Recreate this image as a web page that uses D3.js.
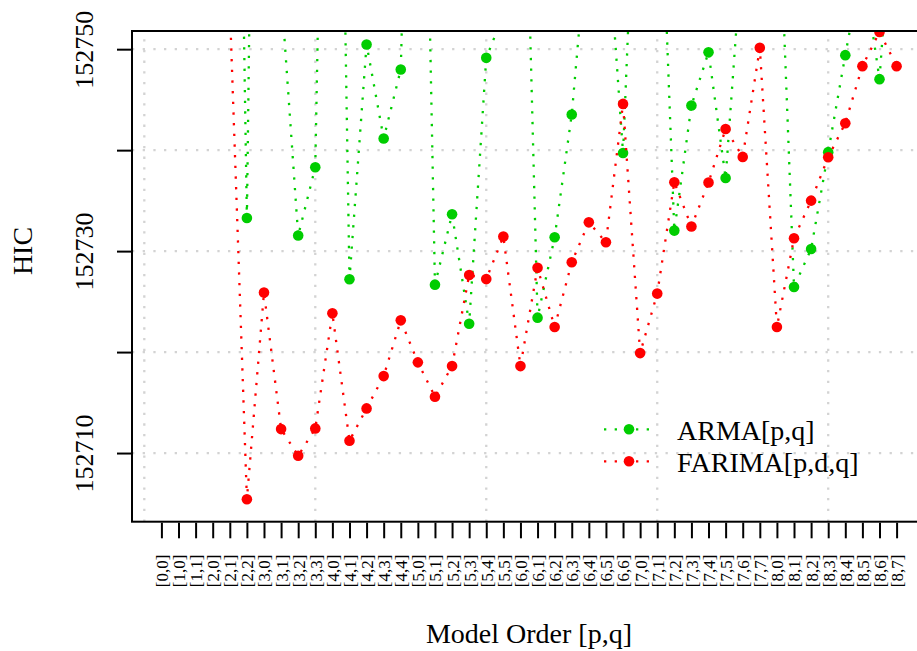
<!DOCTYPE html>
<html>
<head>
<meta charset="utf-8">
<script src="https://cdn.jsdelivr.net/npm/d3@7"></script>
<style>
  html, body { margin: 0; padding: 0; background: #ffffff; }
  svg { display: block; }
  text { font-family: "Liberation Serif", "DejaVu Serif", serif; fill: #000; }
</style>
</head>
<body>
<svg id="chart" width="917" height="651"></svg>
<script>
// Model orders [p,q] along the horizontal axis
const categories = [
  "[0,0]", "[1,0]", "[1,1]", "[2,0]", "[2,1]", "[2,2]",
  "[3,0]", "[3,1]", "[3,2]", "[3,3]",
  "[4,0]", "[4,1]", "[4,2]", "[4,3]", "[4,4]",
  "[5,0]", "[5,1]", "[5,2]", "[5,3]", "[5,4]", "[5,5]",
  "[6,0]", "[6,1]", "[6,2]", "[6,3]", "[6,4]", "[6,5]", "[6,6]",
  "[7,0]", "[7,1]", "[7,2]", "[7,3]", "[7,4]", "[7,5]", "[7,6]", "[7,7]",
  "[8,0]", "[8,1]", "[8,2]", "[8,3]", "[8,4]", "[8,5]", "[8,6]", "[8,7]"
];

// HIC of the ARMA[p,q] fits (null = not available, far above the shown range)
const armaHIC = [
  null, null, null, null, 152840, 152733.28,
  152870, 152755.9, 152731.54, 152738.31,
  152830, 152727.21, 152750.47, 152741.15, 152747.99,
  152813, 152726.68, 152733.65, 152722.81, 152749.14, 152753.4,
  152789, 152723.41, 152731.37, 152743.53, 152762.9, 152763.9, 152739.72,
  152781, 152776.9, 152732.03, 152744.42, 152749.70, 152737.24, 152760.8, null,
  152770.5, 152726.44, 152730.21, 152739.8, 152749.41, 152758.6, 152747.03, 152770.6
];

// HIC of the FARIMA[p,d,q] fits
const farimaHIC = [
  null, null, null, null, 152754.3, 152705.43,
  152725.89, 152712.37, 152709.73, 152712.44,
  152723.84, 152711.22, 152714.42, 152717.62, 152723.14,
  152718.98, 152715.58, 152718.61, 152727.63, 152727.23, 152731.44,
  152718.61, 152728.34, 152722.48, 152728.89, 152732.85, 152730.87, 152744.58,
  152719.90, 152725.79, 152736.82, 152732.43, 152736.79, 152742.10, 152739.33, 152750.13,
  152722.48, 152731.27, 152735.00, 152739.30, 152742.67, 152748.32, 152751.71, 152748.32
];

const yTicks = [152710, 152720, 152730, 152740, 152750];
const yTickLabels = [152710, 152730, 152750];
const gridX = [0, 10, 20, 30, 40];

const seriesNames = ["ARMA[p,q]", "FARIMA[p,d,q]"];
const seriesColors = ["#00cd00", "#ff0000"];

// plot region
const plotLeft = 132, plotRight = 926, plotTop = 31, plotBottom = 521.7;

const svg = d3.select("#chart");

const x = d3.scaleLinear().domain([-0.72, 45.72]).range([plotLeft, plotRight]);
const y = d3.scaleLinear().domain([152703.2, 152751.8]).range([plotBottom, plotTop]);

const dotted = "2.3 8.37";

svg.append("defs").append("clipPath").attr("id", "plotClip")
  .append("rect")
  .attr("x", plotLeft).attr("y", plotTop)
  .attr("width", plotRight - plotLeft).attr("height", plotBottom - plotTop);

// dotted grid
const grid = svg.append("g").attr("clip-path", "url(#plotClip)")
  .attr("stroke", "#d3d3d3").attr("stroke-width", 2.3)
  .attr("stroke-dasharray", dotted).attr("fill", "none");

grid.selectAll("line.h").data(yTicks).join("line")
  .attr("class", "h")
  .attr("x1", plotLeft).attr("x2", plotRight)
  .attr("y1", d => y(d)).attr("y2", d => y(d));

grid.selectAll("line.v").data(gridX).join("line")
  .attr("class", "v")
  .attr("x1", d => x(d)).attr("x2", d => x(d))
  .attr("y1", plotBottom).attr("y2", plotTop);

// series: dotted line with filled points
const plot = svg.append("g").attr("clip-path", "url(#plotClip)");

const line = d3.line()
  .defined(d => d.v !== null)
  .x(d => x(d.i + 1))
  .y(d => y(d.v));

[armaHIC, farimaHIC].forEach((vals, k) => {
  const pts = vals.map((v, i) => ({ i, v }));
  plot.append("path")
    .datum(pts)
    .attr("d", line)
    .attr("fill", "none")
    .attr("stroke", seriesColors[k])
    .attr("stroke-width", 2.3)
    .attr("stroke-dasharray", dotted);
  plot.append("g").selectAll("circle")
    .data(pts.filter(d => d.v !== null))
    .join("circle")
    .attr("cx", d => x(d.i + 1))
    .attr("cy", d => y(d.v))
    .attr("r", 5.3)
    .attr("fill", seriesColors[k]);
});

// frame
svg.append("rect")
  .attr("x", plotLeft).attr("y", plotTop)
  .attr("width", plotRight - plotLeft).attr("height", plotBottom - plotTop)
  .attr("fill", "none").attr("stroke", "#000").attr("stroke-width", 2);

// y axis
const yAxis = svg.append("g")
  .attr("transform", `translate(${plotLeft},0)`)
  .call(d3.axisLeft(y)
    .tickValues(yTicks)
    .tickSize(15)
    .tickFormat(d => yTickLabels.includes(d) ? String(d) : ""));
yAxis.select(".domain").remove();
yAxis.selectAll(".tick line").attr("stroke", "#000").attr("stroke-width", 2);
yAxis.selectAll(".tick text")
  .attr("x", null).attr("dy", null)
  .attr("transform", "translate(-39,0) rotate(-90)")
  .attr("text-anchor", "middle")
  .style("font-family", "'Liberation Serif', serif")
  .style("font-size", "26px")
  .attr("fill", "#000");

// x axis with rotated model-order labels
const xAxis = svg.append("g")
  .attr("transform", `translate(0,${plotBottom + 1})`)
  .call(d3.axisBottom(x)
    .tickValues(d3.range(1, categories.length + 1))
    .tickSize(15.6)
    .tickFormat(d => categories[d - 1]));
xAxis.select(".domain").remove();
xAxis.selectAll(".tick line").attr("stroke", "#000").attr("stroke-width", 2);
xAxis.selectAll(".tick text")
  .attr("y", null).attr("dy", "0.35em")
  .attr("transform", "translate(0,32) rotate(-90)")
  .attr("text-anchor", "end")
  .style("font-family", "'Liberation Serif', serif")
  .style("font-size", "17px")
  .attr("fill", "#000");

// axis titles
svg.append("text")
  .attr("x", (plotLeft + plotRight) / 2).attr("y", 643)
  .attr("text-anchor", "middle")
  .style("font-size", "28px")
  .text("Model Order [p,q]");

svg.append("text")
  .attr("transform", "translate(32,251) rotate(-90)")
  .attr("text-anchor", "middle")
  .style("font-size", "28px")
  .text("HIC");

// legend
const legend = svg.append("g");
const legendRows = [429.3, 461.3];
seriesNames.forEach((name, k) => {
  const ly = legendRows[k];
  legend.append("line")
    .attr("x1", 604).attr("x2", 652)
    .attr("y1", ly).attr("y2", ly)
    .attr("stroke", seriesColors[k])
    .attr("stroke-width", 2.3)
    .attr("stroke-dasharray", dotted);
  legend.append("circle")
    .attr("cx", 629).attr("cy", ly).attr("r", 5.3)
    .attr("fill", seriesColors[k]);
  legend.append("text")
    .attr("x", 677).attr("y", ly + 10.5)
    .style("font-size", "28px")
    .text(name);
});
</script>
</body>
</html>
